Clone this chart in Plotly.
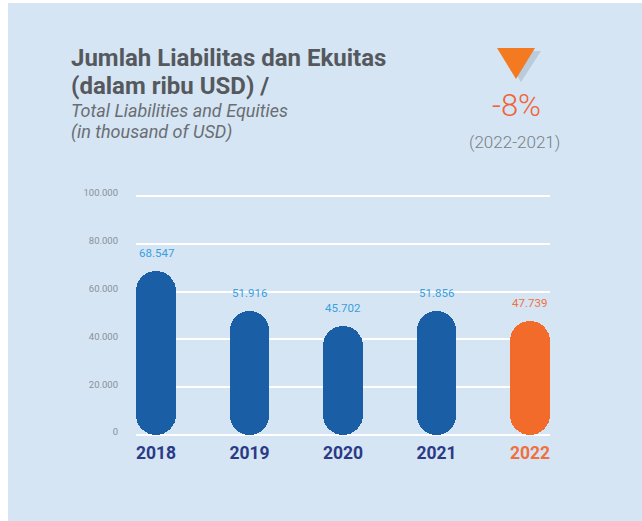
import plotly.graph_objects as go

# ---- data ----
years = ["2018", "2019", "2020", "2021", "2022"]
values = [68547, 51916, 45702, 51856, 47739]
value_labels = ["68.547", "51.916", "45.702", "51.856", "47.739"]
y_tickvals = [0, 20000, 40000, 60000, 80000, 100000]
y_ticktext = ["0", "20.000", "40.000", "60.000", "80.000", "100.000"]
change_text = "-8%"
change_period = "(2022-2021)"

W, H = 642, 521
ML, MR, MT, MB = 136, 92, 193, 83
PW, PH = W - ML - MR, H - MT - MB
Y_PAD = 1255  # small padding so edge gridlines are drawn

BLUE = "#1a5fa5"
ORANGE = "#f26b2b"
LABEL_BLUE = "#3a9fdc"
LABEL_ORANGE = "#f0703f"
NAVY = "#2b3a87"
BG = "#d5e5f4"

bar_colors = [BLUE, BLUE, BLUE, BLUE, ORANGE]
label_colors = [LABEL_BLUE] * 4 + [LABEL_ORANGE]
x_colors = [NAVY] * 4 + [LABEL_ORANGE]


def px_x(p):
    return (p - ML) / PW


def px_y(p):
    return (H - MB - p) / PH


fig = go.Figure()
# pill-shaped bars: explicit base makes both ends rounded
fig.add_trace(go.Bar(
    x=years, y=values, base=[0] * len(values), width=0.42,
    marker=dict(color=bar_colors, cornerradius="50%", line=dict(width=0)),
    hoverinfo="skip", showlegend=False,
))

annotations = []
for i, (v, lab, c) in enumerate(zip(values, value_labels, label_colors)):
    annotations.append(dict(
        x=i, y=v, xref="x", yref="y", text=lab, showarrow=False,
        yshift=18, yanchor="middle", xanchor="center",
        font=dict(family="Roboto", size=11.5, color=c),
    ))

TITLE_C = "#55595e"
SUB_C = "#6a6e73"
annotations += [
    dict(xref="paper", yref="paper", x=px_x(69), y=px_y(57.5), xanchor="left", yanchor="middle",
         text="<b>Jumlah Liabilitas dan Ekuitas</b>", showarrow=False, align="left",
         font=dict(family="Roboto", size=24, color=TITLE_C)),
    dict(xref="paper", yref="paper", x=px_x(69), y=px_y(86.5), xanchor="left", yanchor="middle",
         text="<b>(dalam ribu USD) /</b>", showarrow=False, align="left",
         font=dict(family="Roboto", size=24, color=TITLE_C)),
    dict(xref="paper", yref="paper", x=px_x(69), y=px_y(110.5), xanchor="left", yanchor="middle",
         text="<i>Total Liabilities and Equities</i>", showarrow=False, align="left",
         font=dict(family="Roboto", size=18, color=SUB_C)),
    dict(xref="paper", yref="paper", x=px_x(69), y=px_y(132), xanchor="left", yanchor="middle",
         text="<i>(in thousand of USD)</i>", showarrow=False, align="left",
         font=dict(family="Roboto", size=18, color=SUB_C)),
    dict(xref="paper", yref="paper", x=px_x(516), y=px_y(106), xanchor="center", yanchor="middle",
         text=change_text, showarrow=False,
         font=dict(family="Roboto", size=31, color="#f0633a", weight=300)),
    dict(xref="paper", yref="paper", x=px_x(514), y=px_y(142), xanchor="center", yanchor="middle",
         text=change_period, showarrow=False,
         font=dict(family="Roboto", size=17, color="#7a7e84", weight=300)),
]

shapes = [
    # light blue panel (white strip at left and top)
    dict(type="rect", xref="paper", yref="paper", x0=px_x(8), x1=px_x(W + 5), y0=px_y(H + 5), y1=px_y(3),
         fillcolor=BG, line=dict(width=0), layer="below"),
    # soft shadow of triangle
    dict(type="path", xref="paper", yref="paper",
         path=f"M {px_x(502)} {px_y(51)} L {px_x(541)} {px_y(51)} L {px_x(521)} {px_y(82)} Z",
         fillcolor="rgba(80,100,125,0.2)", line=dict(width=0), layer="above"),
    # triangle
    dict(type="path", xref="paper", yref="paper",
         path=f"M {px_x(497)} {px_y(48)} L {px_x(535)} {px_y(48)} L {px_x(516)} {px_y(79)} Z",
         fillcolor="#f47a22", line=dict(width=0), layer="above"),
]

fig.update_layout(
    width=W, height=H,
    margin=dict(l=ML, r=MR, t=MT, b=MB, pad=0),
    paper_bgcolor="white",
    plot_bgcolor="rgba(0,0,0,0)",
    barmode="overlay",
    bargap=0,
    annotations=annotations,
    shapes=shapes,
    showlegend=False,
    font=dict(family="Roboto"),
)
fig.update_xaxes(
    type="category", range=[-0.214, 4.214],
    tickvals=years,
    ticktext=[f"<span style='color:{c}'><b>{y}</b></span>" for y, c in zip(years, x_colors)],
    tickfont=dict(family="Roboto", size=17.5, color=NAVY),
    showgrid=False, zeroline=False, showline=False, ticks="",
    ticklabelstandoff=2,
)
fig.update_yaxes(
    range=[-Y_PAD, 100000 + Y_PAD], tickvals=y_tickvals, ticktext=y_ticktext,
    tickfont=dict(family="Roboto", size=9.5, color="#8b9097"),
    showgrid=True, gridcolor="white", gridwidth=1.5,
    zeroline=False, showline=False, ticks="",
    ticklabelstandoff=17, ticklabelshift=-3,
)

fig.write_html("out.html", post_script="document.body.style.margin='0px';",
               config={"displayModeBar": False})
